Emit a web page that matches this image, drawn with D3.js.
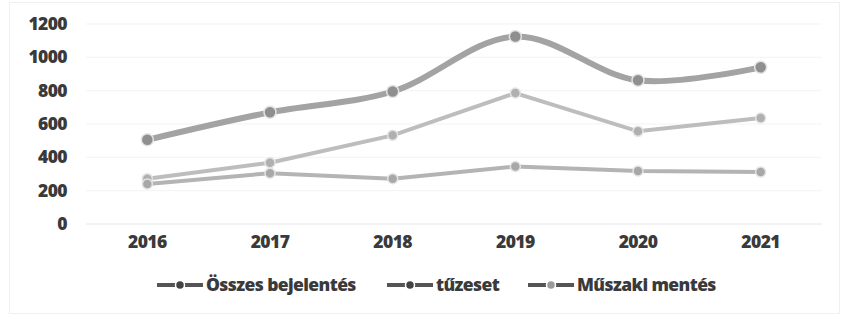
<!DOCTYPE html>
<html>
<head>
<meta charset="utf-8">
<script src="https://cdn.jsdelivr.net/npm/d3@7"></script>
<style>
  body { margin: 0; background: #fff; }
  svg { display: block; font-family: "Open Sans", Lato, sans-serif; }
</style>
</head>
<body>
<svg id="chart" width="844" height="319"></svg>
<script>
const years = ["2016", "2017", "2018", "2019", "2020", "2021"];
const osszes = [505, 670, 795, 1125, 862, 940];
const tuzeset = [240, 305, 272, 345, 318, 312];
const muszaki = [272, 368, 532, 786, 556, 636];
const yTicks = [0, 200, 400, 600, 800, 1000, 1200];

const FONT = "'Open Sans', Lato, sans-serif";
const FSIZE = 17.5;

const series = [
  { name: "Összes bejelentés", values: osszes, color: "#a3a3a3", width: 6, curve: d3.curveCatmullRom.alpha(0.5), dot: "#8f8f8f" },
  { name: "tűzeset", values: tuzeset, color: "#b4b4b4", width: 4, curve: d3.curveLinear, dot: "#a8a8a8" },
  { name: "Műszaki mentés", values: muszaki, color: "#bdbdbd", width: 4, curve: d3.curveLinear, dot: "#b0b0b0" }
];

const svg = d3.select("#chart");
const width = 844, height = 319;
const margin = { top: 24, right: 22, bottom: 95, left: 86 };

// faint outer frame
svg.append("rect")
  .attr("x", 9.5).attr("y", 2.5)
  .attr("width", width - 14).attr("height", height - 8)
  .attr("fill", "none").attr("stroke", "#f0f0f0");

const x = d3.scaleBand().domain(years).range([margin.left, width - margin.right]);
const y = d3.scaleLinear().domain([0, 1200]).range([224, 24]);

// gridlines
svg.append("g")
  .selectAll("line")
  .data(yTicks)
  .join("line")
  .attr("x1", margin.left).attr("x2", width - margin.right)
  .attr("y1", (d) => y(d)).attr("y2", (d) => y(d))
  .attr("stroke", (d) => (d === 0 ? "#e6e6e6" : "#f3f3f3"))
  .attr("stroke-width", 1);

function styleText(sel) {
  sel.attr("fill", "#3a3a3a")
    .attr("font-size", FSIZE)
    .attr("font-weight", 800)
    .attr("letter-spacing", -0.6)
    .attr("font-family", FONT);
}

// y axis
const yAxis = svg.append("g")
  .attr("transform", `translate(${margin.left - 19},0)`)
  .call(d3.axisLeft(y).tickValues(yTicks).tickFormat(d3.format("d")).tickSize(0).tickPadding(0));
yAxis.select(".domain").remove();
yAxis.selectAll("text").call(styleText);

// x axis
const xAxis = svg.append("g")
  .attr("transform", `translate(0,${y(0)})`)
  .call(d3.axisBottom(x).tickSize(0).tickPadding(12));
xAxis.select(".domain").remove();
xAxis.selectAll("text").call(styleText);

const cx = (i) => x(years[i]) + x.bandwidth() / 2;

// lines, drawn bottom-up so Összes is on top
series.slice().reverse().forEach((s) => {
  const line = d3.line()
    .x((d, i) => cx(i))
    .y((d) => y(d))
    .curve(s.curve);

  svg.append("path")
    .datum(s.values)
    .attr("d", line)
    .attr("fill", "none")
    .attr("stroke", s.color)
    .attr("stroke-width", s.width)
    .attr("stroke-linecap", "round");

  svg.append("g")
    .selectAll("circle")
    .data(s.values)
    .join("circle")
    .attr("cx", (d, i) => cx(i))
    .attr("cy", (d) => y(d))
    .attr("r", s.width > 5 ? 6 : 5)
    .attr("fill", s.dot)
    .attr("stroke", "#e4e4e4")
    .attr("stroke-width", 1.5);
});

// legend
const legendX = [157, 387, 528];
const legend = svg.append("g").attr("transform", "translate(0,285)");
series.forEach((s, i) => {
  const g = legend.append("g").attr("transform", `translate(${legendX[i]},0)`);
  g.append("line")
    .attr("x1", 0).attr("x2", 46)
    .attr("stroke", "#555")
    .attr("stroke-width", 4);
  g.append("circle")
    .attr("cx", 23).attr("r", 4.5)
    .attr("fill", i === 2 ? "#9a9a9a" : "#444")
    .attr("stroke", "#fff").attr("stroke-width", 1.5);
  g.append("text")
    .attr("x", 49).attr("y", 0)
    .attr("dy", "0.35em")
    .call(styleText)
    .text(s.name);
});
</script>
</body>
</html>
